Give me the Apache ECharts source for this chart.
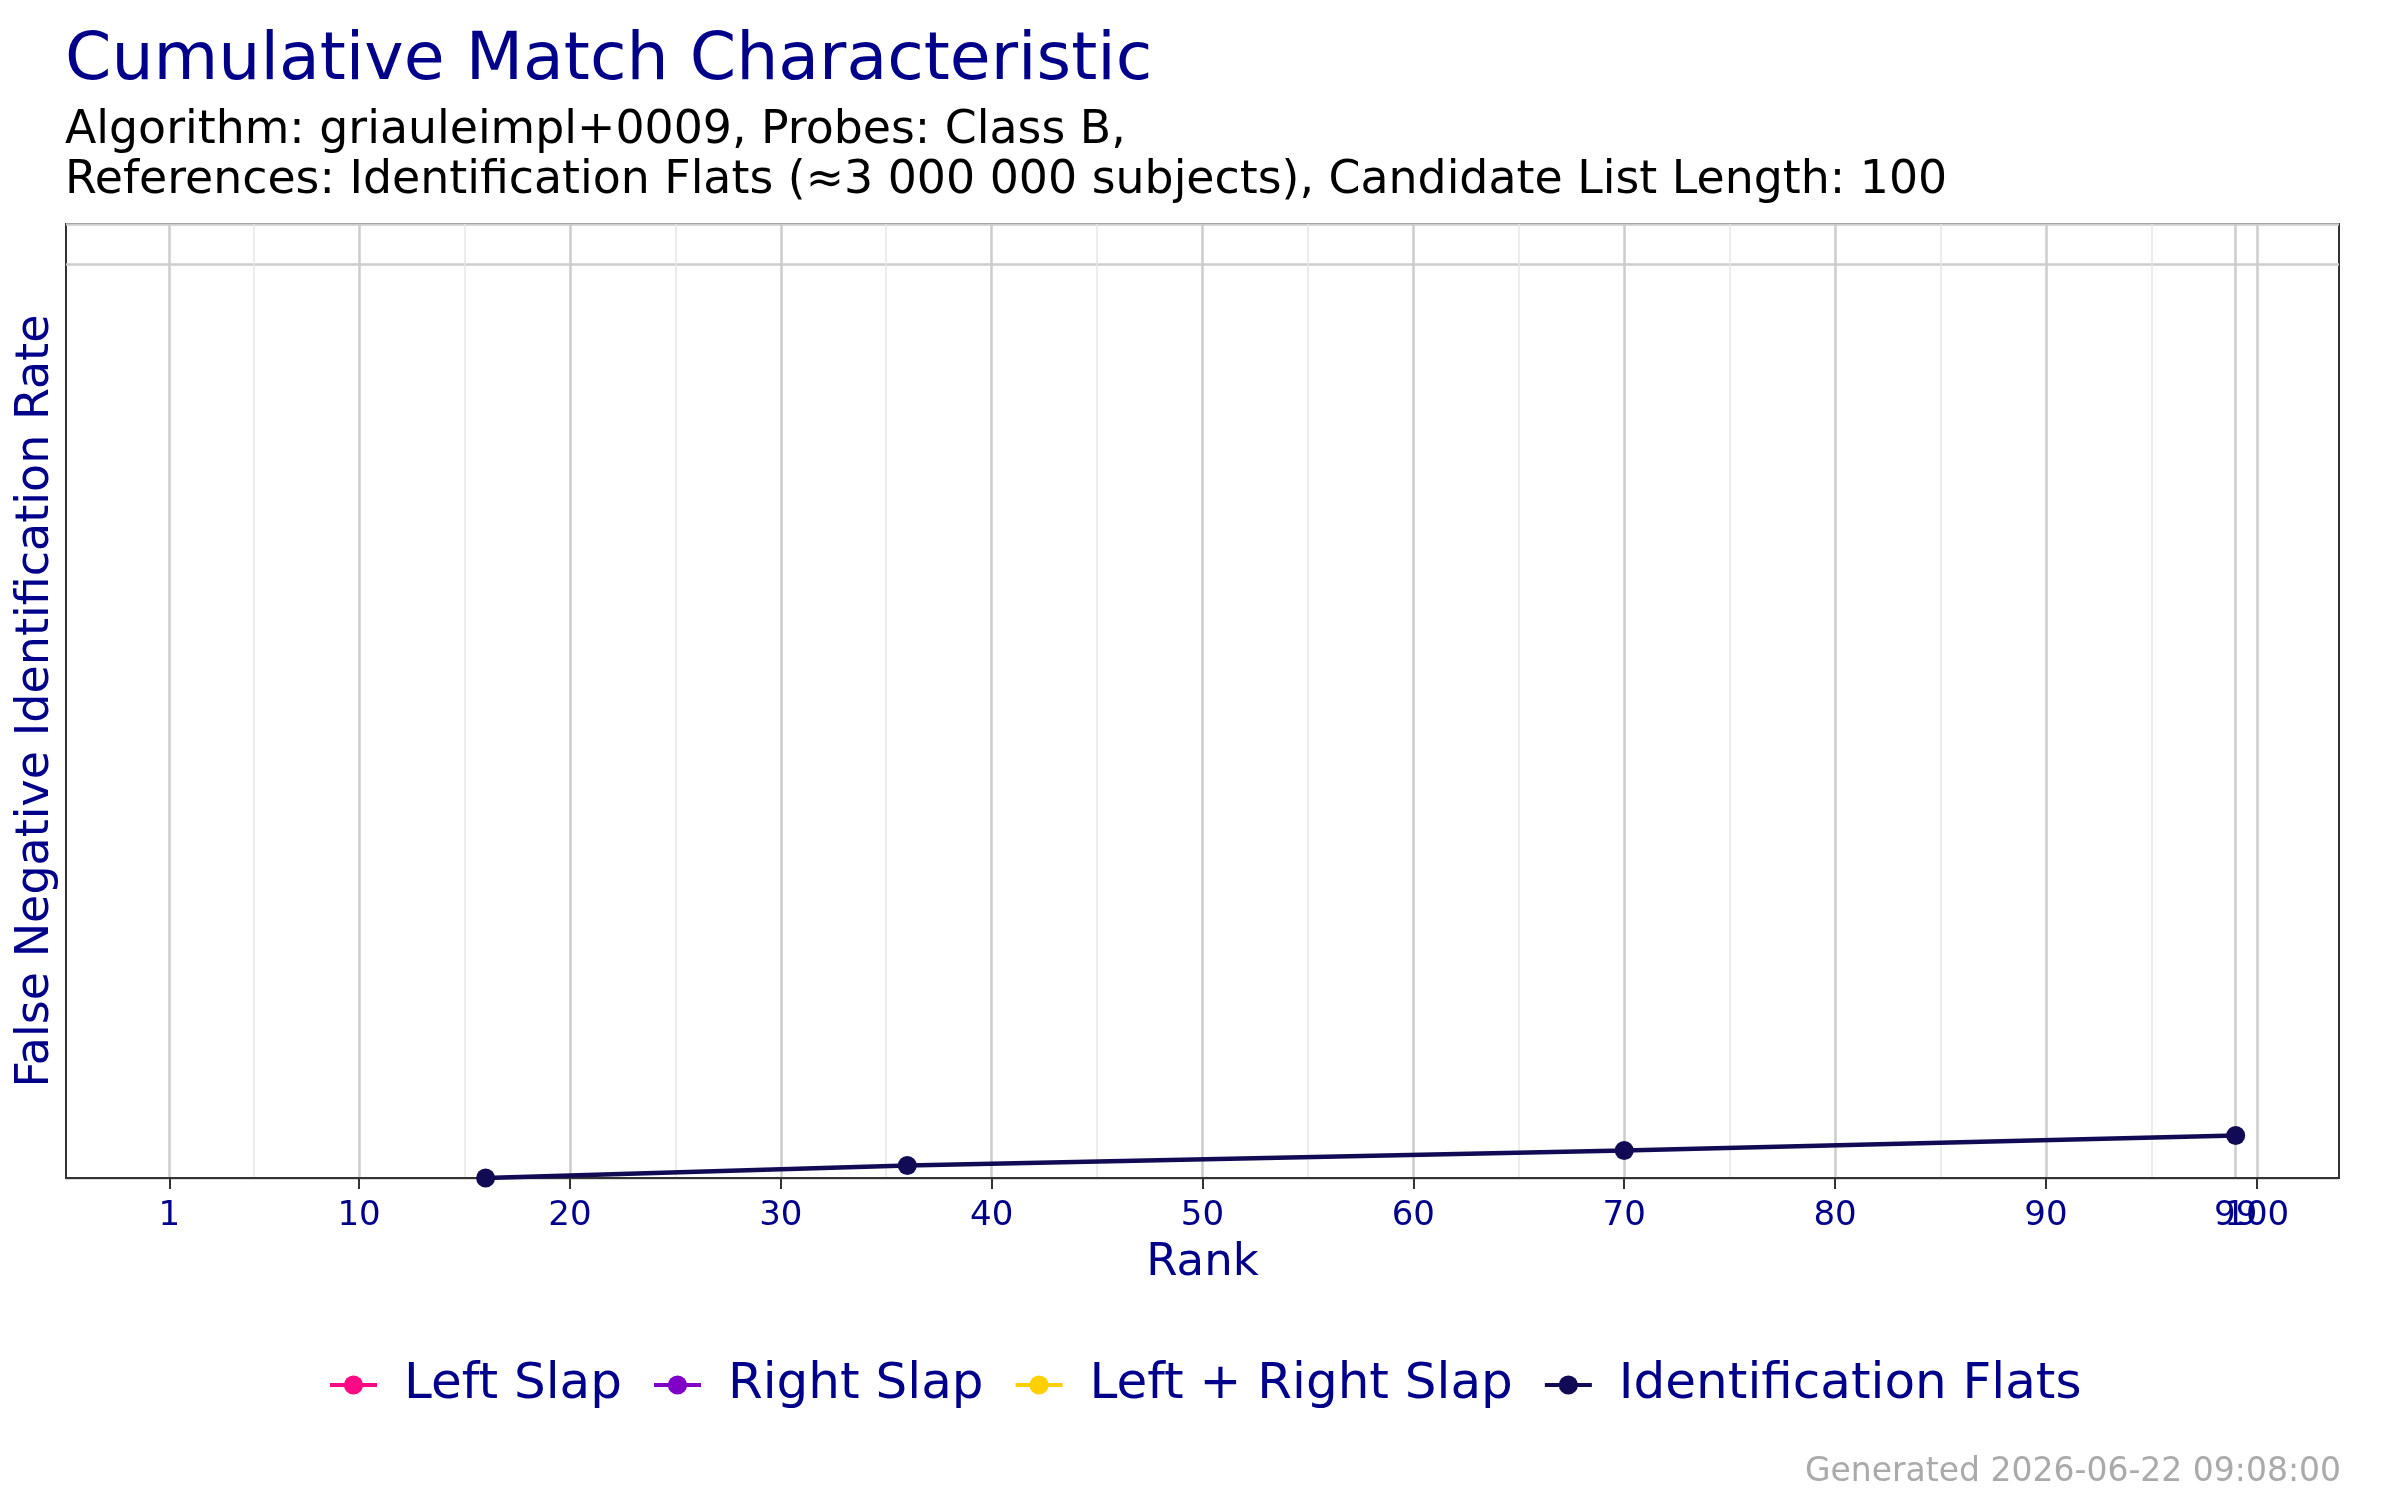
<!DOCTYPE html>
<html>
<head>
<meta charset="utf-8">
<script src="https://cdn.jsdelivr.net/npm/echarts@6/dist/echarts.min.js"></script>
<style>
  html, body { margin: 0; padding: 0; background: #fff; }
  #chart { width: 2400px; height: 1500px; }
</style>
</head>
<body>
<div id="chart"></div>
<script>
// series in legend order; only Identification Flats has points
const seriesNames = ['Left Slap', 'Right Slap', 'Left + Right Slap', 'Identification Flats'];
const seriesColors = ['#ff0a85', '#8000c8', '#ffcf00', '#110b55'];

// rank (x) and false negative identification rate (y) for Identification Flats
const ranks = [16, 36, 70, 99];
const fnirFlats = [0, 0.0131, 0.0288, 0.0445];

// x axis ticks ("99" sits on top of "100" in the original, drawn on its own axis)
const rankTicks = [1, 10, 20, 30, 40, 50, 60, 70, 80, 90, 99, 100];
const rankTicksExtra = [99];
const rankMinor = [5, 15, 25, 35, 45, 55, 65, 75, 85, 95];

// y axis: one visible grid line near the top, no labels
const yGridValue = 0.958;

const fontFamily = 'DejaVu Sans';
const navy = '#00008b';
const xMin = -3.9, xMax = 103.9;

const chart = echarts.init(document.getElementById('chart'), null, {renderer: 'canvas'});

const series = seriesNames.map((name, i) => ({
    name: name,
    type: 'line',
    xAxisIndex: 0,
    data: name === 'Identification Flats' ? ranks.map((r, j) => [r, fnirFlats[j]]) : [],
    symbol: 'circle',
    symbolSize: 19,
    clip: true,
    lineStyle: {width: 4.5, color: seriesColors[i]},
    itemStyle: {color: seriesColors[i]},
    animation: false
}));

const labelStyle = {fontSize: 34, color: navy, margin: 21, showMinLabel: true, showMaxLabel: true, hideOverlap: false};

const option = {
    backgroundColor: '#fff',
    textStyle: {fontFamily: fontFamily},
    title: {
        left: 60,
        top: 23,
        text: 'Cumulative Match Characteristic',
        textStyle: {fontSize: 66.5, fontWeight: 'normal', color: navy, fontFamily: fontFamily},
        subtext: 'Algorithm: griauleimpl+0009, Probes: Class B,\nReferences: Identification Flats (≈3 000 000 subjects), Candidate List Length: 100',
        subtextStyle: {fontSize: 45.8, color: '#000', lineHeight: 50, fontFamily: fontFamily},
        itemGap: 11
    },
    grid: {
        left: 66, right: 61, top: 224, bottom: 322,
        show: true, borderColor: '#333', borderWidth: 2,
        containLabel: false
    },
    legend: {
        bottom: 85,
        left: 328,
        padding: [5, 0, 5, 0],
        itemWidth: 47,
        itemHeight: 24,
        itemGap: 30,
        data: seriesNames,
        lineStyle: {width: 4},
        textStyle: {fontSize: 50, color: navy, padding: [0, 0, 0, 22], fontFamily: fontFamily}
    },
    xAxis: [{
        type: 'value',
        min: xMin,
        max: xMax,
        name: 'Rank',
        nameLocation: 'middle',
        nameGap: 63,
        nameTextStyle: {fontSize: 45, color: navy},
        axisLine: {show: true, lineStyle: {color: '#333', width: 2}},
        axisTick: {show: true, length: 11, lineStyle: {color: '#333', width: 2}, customValues: rankTicks},
        axisLabel: Object.assign({customValues: rankTicks}, labelStyle),
        splitLine: {show: true, lineStyle: {color: '#cccccc', width: 2.5}}
    }, {
        type: 'value',
        min: xMin,
        max: xMax,
        position: 'bottom',
        axisLine: {show: false},
        axisTick: {show: false, customValues: rankMinor},
        axisLabel: {show: false, customValues: rankMinor},
        splitLine: {show: true, lineStyle: {color: '#e6e6e6', width: 1.5}}
    }, {
        type: 'value',
        min: xMin,
        max: xMax,
        position: 'bottom',
        axisLine: {show: false},
        axisTick: {show: false, customValues: rankTicksExtra},
        axisLabel: Object.assign({customValues: rankTicksExtra}, labelStyle),
        splitLine: {show: false}
    }],
    yAxis: {
        type: 'value',
        min: 0,
        max: 1,
        interval: yGridValue,
        name: 'False Negative Identification Rate',
        nameLocation: 'middle',
        nameRotate: 90,
        nameGap: 7,
        nameTextStyle: {fontSize: 46, color: navy},
        axisLine: {show: false},
        axisTick: {show: false},
        axisLabel: {show: false},
        splitLine: {show: true, lineStyle: {color: '#cccccc', width: 2.5}}
    },
    graphic: [{
        type: 'text',
        right: 59,
        bottom: 11,
        style: {text: 'Generated 2026-06-22 09:08:00', fontSize: 33, fill: '#aaaaaa', fontFamily: fontFamily}
    }],
    series: series
};

chart.setOption(option);
</script>
</body>
</html>
